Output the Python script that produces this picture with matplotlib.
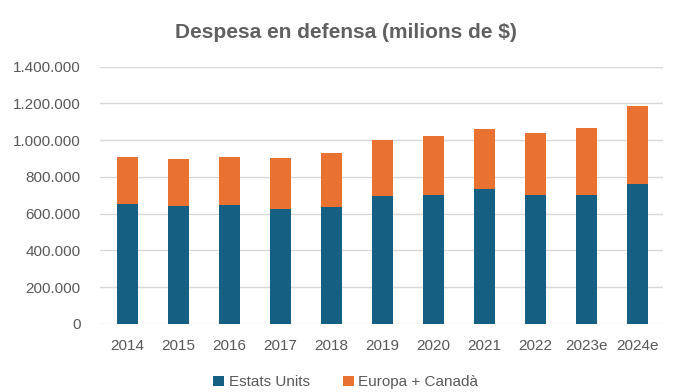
import matplotlib
matplotlib.use("Agg")
import matplotlib.pyplot as plt
from matplotlib.ticker import FuncFormatter

years = ["2014", "2015", "2016", "2017", "2018", "2019", "2020", "2021", "2022", "2023e", "2024e"]
usa = [655000, 641000, 650000, 626000, 639000, 697000, 704000, 735000, 704000, 704000, 759000]
totals = [911000, 897000, 911000, 904000, 928000, 1001000, 1022000, 1061000, 1039000, 1068000, 1184000]
europe_canada = [t - u for t, u in zip(totals, usa)]

blue = "#156082"
orange = "#E97132"
gray = "#595959"

plt.rcParams["font.family"] = ["Liberation Sans", "DejaVu Sans"]

fig = plt.figure(figsize=(6.96, 3.92), dpi=100)
ax = fig.add_axes([0.1437, 0.1735, 0.8089, 0.6565])

x = range(len(years))
ax.bar(x, usa, width=0.41, color=blue, label="Estats Units", zorder=3)
ax.bar(x, europe_canada, width=0.41, bottom=usa, color=orange, label="Europa + Canadà", zorder=3)

ax.set_ylim(0, 1400000)
ax.set_xlim(-0.53, 10.5)
ax.set_yticks(range(0, 1400001, 200000))
ax.yaxis.set_major_formatter(FuncFormatter(lambda v, p: f"{int(v):,}".replace(",", ".")))
ax.set_xticks(list(x))
ax.set_xticklabels(years)

ax.grid(axis="y", color="#d9d9d9", linewidth=1, zorder=0)
for s in ax.spines.values():
    s.set_visible(False)
ax.tick_params(axis="both", length=0, labelsize=11, colors=gray)
ax.tick_params(axis="y", pad=14)
ax.tick_params(axis="x", pad=11)

fig.text(0.497, 0.918, "Despesa en defensa (milions de $)", ha="center", va="center",
         fontsize=15, fontweight="bold", color="#606060")

fig.legend(loc="center", bbox_to_anchor=(0.497, 0.025), ncol=2, frameon=False,
           fontsize=11, labelcolor=gray, handlelength=0.7, handleheight=0.7,
           handletextpad=0.3, columnspacing=2.2)

fig.savefig("out.png", dpi=100)
